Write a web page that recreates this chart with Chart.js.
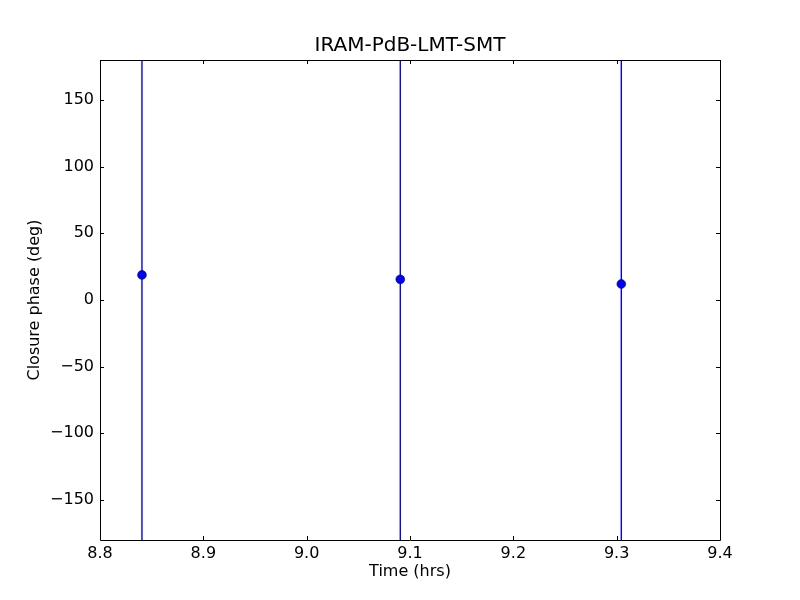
<!DOCTYPE html>
<html>
<head>
<meta charset="utf-8">
<script src="https://cdn.jsdelivr.net/npm/chart.js@4.4.1/dist/chart.umd.min.js"></script>
<style>
  html, body { margin: 0; padding: 0; background: #ffffff; }
  #wrap { width: 800px; height: 600px; }
</style>
</head>
<body>
<div id="wrap"><canvas id="c" width="800" height="600"></canvas></div>
<script>
// ---- data ----
const chartTitle = 'IRAM-PdB-LMT-SMT';
const xLabel = 'Time (hrs)';
const yLabel = 'Closure phase (deg)';
const times = [8.8406, 9.0906, 9.3045];
const phases = [18.8, 15.5, 12.0];
const phaseErrors = [200, 200, 200]; // error bars exceed the full axis range
const xTicks = [8.8, 8.9, 9.0, 9.1, 9.2, 9.3, 9.4];
const yTicks = [-150, -100, -50, 0, 50, 100, 150];
const xRange = [8.8, 9.4];
const yRange = [-180, 180];

const points = times.map((t, i) => ({ x: t, y: phases[i] }));

const fontFam = '"DejaVu Sans", sans-serif';

const errorBarPlugin = {
  id: 'errorBars',
  beforeDatasetsDraw(chart) {
    const { ctx, chartArea, scales } = chart;
    ctx.save();
    ctx.beginPath();
    ctx.rect(chartArea.left, chartArea.top, chartArea.right - chartArea.left, chartArea.bottom - chartArea.top);
    ctx.clip();
    times.forEach((t, i) => {
      const px = scales.x.getPixelForValue(t);
      const y1 = scales.y.getPixelForValue(phases[i] - phaseErrors[i]);
      const y2 = scales.y.getPixelForValue(phases[i] + phaseErrors[i]);
      ctx.strokeStyle = '#0000ff';
      ctx.lineWidth = 1.4;
      ctx.beginPath();
      ctx.moveTo(px, y1);
      ctx.lineTo(px, y2);
      ctx.stroke();
    });
    ctx.restore();
  }
};

const framePlugin = {
  id: 'frame',
  afterDatasetsDraw(chart) {
    const { ctx, chartArea, scales } = chart;
    const L = chartArea.left, R = chartArea.right, T = chartArea.top, B = chartArea.bottom;
    ctx.save();
    ctx.strokeStyle = '#000000';
    ctx.lineWidth = 1;
    const tl = 4;
    ctx.beginPath();
    xTicks.forEach(v => {
      const px = Math.round(scales.x.getPixelForValue(v)) + 0.5;
      ctx.moveTo(px, B); ctx.lineTo(px, B - tl);
      ctx.moveTo(px, T); ctx.lineTo(px, T + tl);
    });
    yTicks.forEach(v => {
      const py = Math.round(scales.y.getPixelForValue(v)) + 0.5;
      ctx.moveTo(L, py); ctx.lineTo(L + tl, py);
      ctx.moveTo(R, py); ctx.lineTo(R - tl, py);
    });
    ctx.stroke();
    ctx.beginPath();
    ctx.rect(L + 0.5, T + 0.5, R - L, B - T);
    ctx.stroke();
    // title centred over the plot area
    ctx.fillStyle = '#000000';
    ctx.font = '20px ' + fontFam;
    ctx.textAlign = 'center';
    ctx.textBaseline = 'middle';
    ctx.fillText(chartTitle, (L + R) / 2, T - 14);
    ctx.restore();
  }
};

new Chart(document.getElementById('c'), {
  type: 'scatter',
  data: {
    datasets: [{
      data: points,
      backgroundColor: '#0000ff',
      borderColor: '#000040',
      borderWidth: 0.6,
      pointRadius: 4.4,
      pointHoverRadius: 4.4,
      showLine: false
    }]
  },
  options: {
    responsive: false,
    animation: false,
    devicePixelRatio: 1,
    layout: { padding: { left: 0, right: 80, top: 60, bottom: 0 } },
    plugins: {
      legend: { display: false },
      tooltip: { enabled: false },
      title: { display: false }
    },
    scales: {
      x: {
        type: 'linear',
        min: xRange[0], max: xRange[1],
        grid: { display: false, drawTicks: false },
        border: { display: false },
        afterBuildTicks(scale) { scale.ticks = xTicks.map(v => ({ value: v })); },
        afterFit(scale) { scale.height = 60; },
        ticks: {
          color: '#000000',
          font: { family: fontFam, size: 16 },
          padding: 4,
          maxRotation: 0,
          autoSkip: false,
          callback: v => Number(v).toFixed(1)
        },
        title: {
          display: true,
          text: xLabel,
          color: '#000000',
          font: { family: fontFam, size: 16 },
          padding: { top: 0, bottom: 19 }
        }
      },
      y: {
        type: 'linear',
        min: yRange[0], max: yRange[1],
        grid: { display: false, drawTicks: false },
        border: { display: false },
        afterBuildTicks(scale) { scale.ticks = yTicks.map(v => ({ value: v })); },
        afterFit(scale) { scale.width = 100; },
        ticks: {
          color: '#000000',
          font: { family: fontFam, size: 16 },
          padding: 6,
          autoSkip: false,
          callback: v => String(v).replace('-', '\u2212')
        },
        title: {
          display: true,
          text: yLabel,
          color: '#000000',
          font: { family: fontFam, size: 16 },
          padding: { top: 25, bottom: 0 }
        }
      }
    }
  },
  plugins: [errorBarPlugin, framePlugin]
});
</script>
</body>
</html>
